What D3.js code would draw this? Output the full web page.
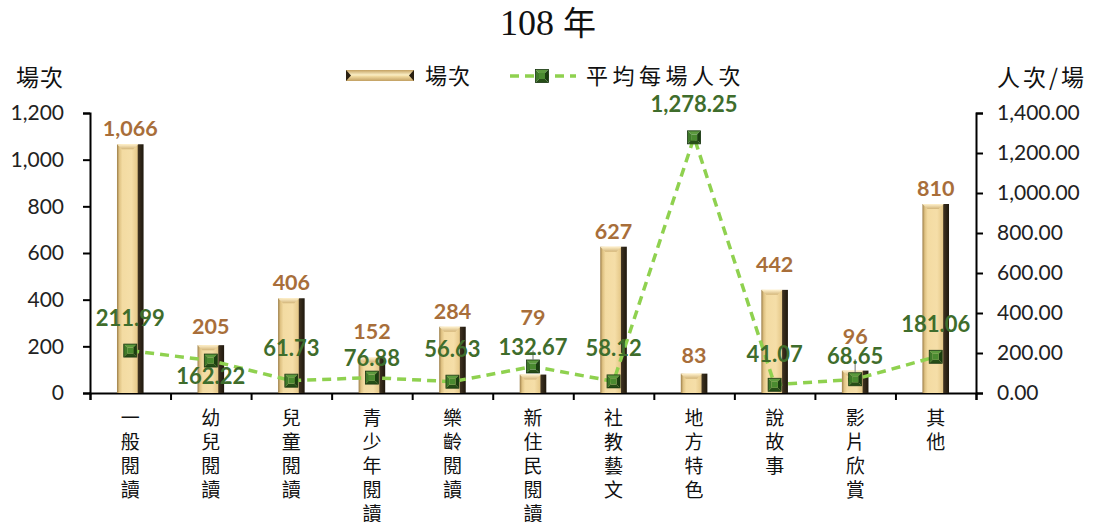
<!DOCTYPE html>
<html>
<head>
<meta charset="utf-8">
<script src="https://cdn.jsdelivr.net/npm/d3@7"></script>
<style>
  body { margin: 0; background: #fff; }
  svg { display: block; }
  .num { font-family: Lato, "Open Sans", sans-serif; }
  .cjk { font-family: "Noto Sans CJK TC", "Noto Sans CJK SC", sans-serif; }
</style>
</head>
<body>
<div id="chart"></div>
<script>
//Data
var categories = ["一般閱讀", "幼兒閱讀", "兒童閱讀", "青少年閱讀", "樂齡閱讀", "新住民閱讀",
                  "社教藝文", "地方特色", "說故事", "影片欣賞", "其他"];
var sessions = [1066, 205, 406, 152, 284, 79, 627, 83, 442, 96, 810];
var avgPerSession = [211.99, 162.22, 61.73, 76.88, 56.63, 132.67, 58.12, 1278.25, 41.07, 68.65, 181.06];
var leftTicks = [0, 200, 400, 600, 800, 1000, 1200];
var rightTicks = [0, 200, 400, 600, 800, 1000, 1200, 1400];

//Label nudges (px, relative to default placement)
var barLabelDy = [0, -3, 0, -11, 0, -42, 0, -3, -10, -19, 0];
var lineLabelDy = [0, 48, 0, 13, 0, 14, 0, 0, 2, 10, 0];
var leaderLines = [5, 9];

var width = 1097, height = 522;
var margin = { left: 90, right: 121, top: 113, bottom: 129 };

var svg = d3.select("#chart").append("svg")
	.attr("width", width)
	.attr("height", height);

var defs = svg.append("defs");

//Bar face gradient
var barGrad = defs.append("linearGradient").attr("id", "barGrad")
	.attr("x1", 0).attr("x2", 1).attr("y1", 0).attr("y2", 0);
[["0%", "#9c7e48"], ["9%", "#dfc283"], ["20%", "#f3dba2"], ["55%", "#f5dea8"],
 ["76%", "#e6c98a"], ["80%", "#3d3120"], ["100%", "#1f180d"]].forEach(function(s) {
	barGrad.append("stop").attr("offset", s[0]).attr("stop-color", s[1]);
});
var topGrad = defs.append("linearGradient").attr("id", "topGrad")
	.attr("x1", 0).attr("x2", 0).attr("y1", 0).attr("y2", 1);
topGrad.append("stop").attr("offset", "0%").attr("stop-color", "#fff1cc");
topGrad.append("stop").attr("offset", "100%").attr("stop-color", "#d2b478");

//Legend swatch gradient
var legGrad = defs.append("linearGradient").attr("id", "legGrad")
	.attr("x1", 0).attr("x2", 0).attr("y1", 0).attr("y2", 1);
[["0%", "#c4a262"], ["45%", "#fbefc6"], ["55%", "#f3dda4"], ["100%", "#c2a062"]].forEach(function(s) {
	legGrad.append("stop").attr("offset", s[0]).attr("stop-color", s[1]);
});

///////////////////////////////////////////////////////////////////////////
//////////////////////////////// Scales ///////////////////////////////////
///////////////////////////////////////////////////////////////////////////

var x = d3.scaleBand()
	.domain(categories)
	.range([margin.left, width - margin.right])
	.paddingInner(0).paddingOuter(0);

var xEdge = d3.scaleLinear()
	.domain([0, categories.length])
	.range([margin.left, width - margin.right]);

var yL = d3.scaleLinear().domain([0, 1200]).range([height - margin.bottom, margin.top]);
var yR = d3.scaleLinear().domain([0, 1400]).range([height - margin.bottom, margin.top]);

var barW = x.bandwidth() * 0.33;
var cx = function(i) { return x(categories[i]) + x.bandwidth() / 2; };

///////////////////////////////////////////////////////////////////////////
///////////////////////////////// Axes ////////////////////////////////////
///////////////////////////////////////////////////////////////////////////

var axL = svg.append("g")
	.attr("transform", "translate(" + margin.left + ",0)")
	.call(d3.axisLeft(yL).tickValues(leftTicks).tickFormat(d3.format(",")).tickSizeOuter(0).tickSize(7).tickPadding(19));

var axR = svg.append("g")
	.attr("transform", "translate(" + (width - margin.right) + ",0)")
	.call(d3.axisRight(yR).tickValues(rightTicks).tickFormat(d3.format(",.2f")).tickSizeOuter(0).tickSize(7).tickPadding(14));

var axB = svg.append("g")
	.attr("transform", "translate(0," + (height - margin.bottom) + ")")
	.call(d3.axisBottom(xEdge).tickValues(d3.range(0, categories.length + 1)).tickFormat("").tickSizeOuter(0).tickSize(7));

[axL, axR, axB].forEach(function(a) {
	a.selectAll("path, line").attr("stroke", "#000").attr("stroke-width", 2);
	a.selectAll("text").attr("class", "num").attr("font-size", 21).attr("fill", "#222");
});

//Vertical category labels
categories.forEach(function(c, i) {
	var t = svg.append("text")
		.attr("class", "cjk")
		.attr("font-size", 19)
		.attr("fill", "#111")
		.attr("text-anchor", "middle");
	c.split("").forEach(function(ch, j) {
		t.append("tspan").attr("x", cx(i)).attr("y", 425 + j * 24).text(ch);
	});
});

///////////////////////////////////////////////////////////////////////////
///////////////////////////////// Bars ////////////////////////////////////
///////////////////////////////////////////////////////////////////////////

var bars = svg.append("g").selectAll("g")
	.data(sessions)
	.enter().append("g");

bars.append("rect")
	.attr("x", function(d, i) { return cx(i) - barW / 2; })
	.attr("y", function(d) { return yL(d); })
	.attr("width", barW)
	.attr("height", function(d) { return yL(0) - yL(d); })
	.attr("fill", "url(#barGrad)");

bars.append("path")
	.attr("d", function(d, i) {
		var x0 = cx(i) - barW / 2, x1 = x0 + barW * 0.8, y0 = yL(d), b = 5;
		return "M" + x0 + "," + y0 + "L" + x1 + "," + y0 + "L" + (x1 - b) + "," + (y0 + b) +
			"L" + (x0 + b) + "," + (y0 + b) + "Z";
	})
	.attr("fill", "url(#topGrad)");

bars.append("text")
	.attr("class", "num")
	.attr("x", function(d, i) { return cx(i); })
	.attr("y", function(d, i) { return yL(d) - 8 + barLabelDy[i]; })
	.attr("text-anchor", "middle")
	.attr("font-size", 21.5)
	.attr("font-weight", "bold")
	.attr("fill", "#a86e3a")
	.text(d3.format(","));

///////////////////////////////////////////////////////////////////////////
///////////////////////////////// Line ////////////////////////////////////
///////////////////////////////////////////////////////////////////////////

var line = d3.line()
	.x(function(d, i) { return cx(i); })
	.y(function(d) { return yR(d); });

svg.append("path")
	.datum(avgPerSession)
	.attr("d", line)
	.attr("fill", "none")
	.attr("stroke", "#8fd14f")
	.attr("stroke-width", 3.5)
	.attr("stroke-dasharray", "9,6");

leaderLines.forEach(function(i) {
	svg.append("line")
		.attr("x1", cx(i)).attr("x2", cx(i))
		.attr("y1", yR(avgPerSession[i]) - 7)
		.attr("y2", yR(avgPerSession[i]) - 30 + lineLabelDy[i])
		.attr("stroke", "#a0a0a0").attr("stroke-width", 1.5);
});

//Bevelled square marker
function marker(sel, size) {
	var h = size / 2, k = h - 3.5;
	var faces = [
		[[-h, -h], [h, -h], [k, -k], [-k, -k], "#5c9a3e"],
		[[-h, -h], [-k, -k], [-k, k], [-h, h], "#3f7a2a"],
		[[h, -h], [h, h], [k, k], [k, -k], "#1b3f10"],
		[[-h, h], [-k, k], [k, k], [h, h], "#264e17"]
	];
	faces.forEach(function(f) {
		sel.append("path")
			.attr("d", "M" + f.slice(0, 4).join("L") + "Z")
			.attr("fill", f[4]);
	});
	sel.append("rect")
		.attr("x", -k).attr("y", -k).attr("width", 2 * k).attr("height", 2 * k)
		.attr("fill", "#4a8a30");
	sel.append("rect")
		.attr("x", -h).attr("y", -h).attr("width", size).attr("height", size)
		.attr("fill", "none").attr("stroke", "#173510").attr("stroke-width", 0.8);
}

svg.append("g").selectAll("g")
	.data(avgPerSession)
	.enter().append("g")
	.attr("transform", function(d, i) { return "translate(" + cx(i) + "," + yR(d) + ")"; })
	.each(function() { marker(d3.select(this), 13); });

svg.append("g").selectAll("text")
	.data(avgPerSession)
	.enter().append("text")
	.attr("class", "num")
	.attr("x", function(d, i) { return cx(i); })
	.attr("y", function(d, i) { return yR(d) - 25 + lineLabelDy[i]; })
	.attr("text-anchor", "middle")
	.attr("font-size", 22)
	.attr("font-weight", "bold")
	.attr("fill", "#3f6d2c")
	.text(d3.format(",.2f"));

///////////////////////////////////////////////////////////////////////////
//////////////////////////// Titles & legend //////////////////////////////
///////////////////////////////////////////////////////////////////////////

var title = svg.append("text")
	.attr("x", 548).attr("y", 35)
	.attr("text-anchor", "middle")
	.attr("font-size", 36)
	.attr("fill", "#111");
title.append("tspan").attr("font-family", "'Liberation Serif', serif").text("108 ");
title.append("tspan").attr("class", "cjk").attr("font-size", 33).text("年");

svg.append("text").attr("class", "cjk")
	.attr("x", 40).attr("y", 86).attr("text-anchor", "middle")
	.attr("font-size", 23).attr("letter-spacing", 1).attr("fill", "#111").text("場次");

svg.append("text").attr("class", "cjk")
	.attr("x", 1042).attr("y", 86).attr("text-anchor", "middle")
	.attr("font-size", 23).attr("letter-spacing", 3).attr("fill", "#111").text("人次/場");

var legend = svg.append("g");
legend.append("rect")
	.attr("x", 346).attr("y", 70).attr("width", 68).attr("height", 11)
	.attr("fill", "url(#legGrad)");
legend.append("path").attr("d", "M346,70L351,75.5L346,81Z").attr("fill", "#2a2010");
legend.append("path").attr("d", "M414,70L409,75.5L414,81Z").attr("fill", "#2a2010");
legend.append("text").attr("class", "cjk")
	.attr("x", 425).attr("y", 84).attr("font-size", 22).attr("letter-spacing", 1).attr("fill", "#111").text("場次");

legend.append("line")
	.attr("x1", 510).attr("x2", 576).attr("y1", 76).attr("y2", 76)
	.attr("stroke", "#8fd14f").attr("stroke-width", 3.5).attr("stroke-dasharray", "9,6");
var lm = legend.append("g").attr("transform", "translate(542,76)");
marker(lm, 13);
legend.append("text").attr("class", "cjk")
	.attr("x", 586).attr("y", 84).attr("font-size", 22).attr("letter-spacing", 4.5).attr("fill", "#111").text("平均每場人次");
</script>
</body>
</html>
